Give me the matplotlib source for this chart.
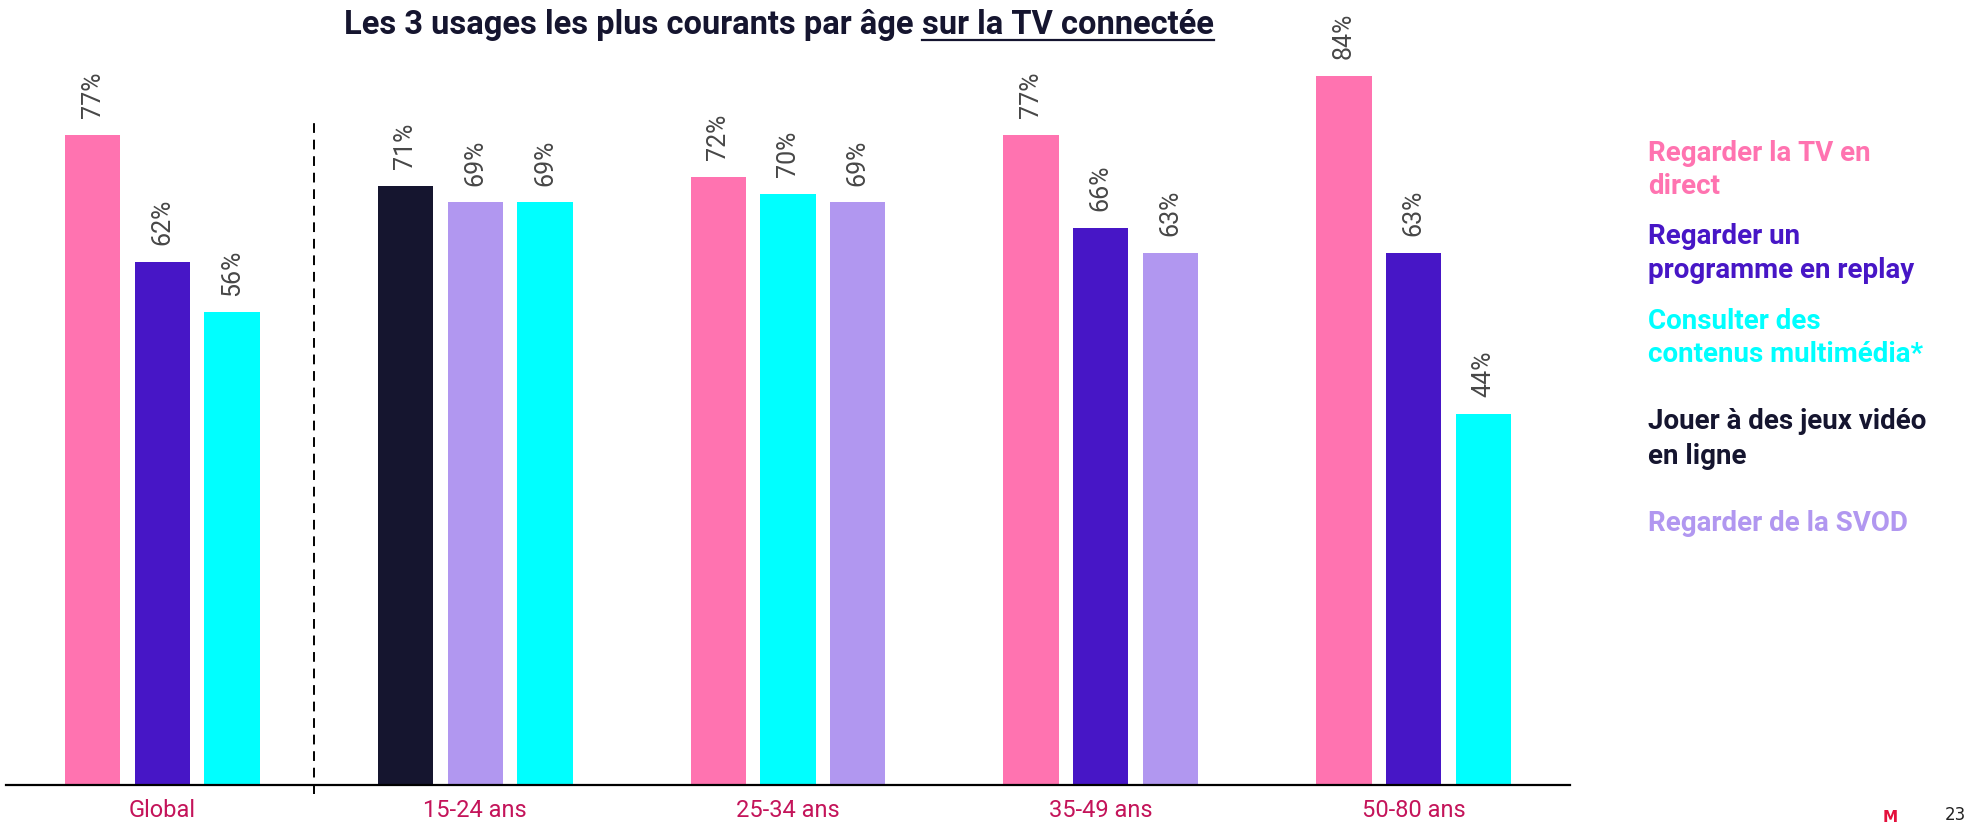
import matplotlib
matplotlib.use("Agg")
import matplotlib.pyplot as plt
import numpy as np

# ---- data ----
categories = ["Global", "15-24 ans", "25-34 ans", "35-49 ans", "50-80 ans"]
series_names = [
    "Regarder la TV en\ndirect",
    "Regarder un\nprogramme en replay",
    "Consulter des\ncontenus multimédia*",
    "Jouer à des jeux vidéo\nen ligne",
    "Regarder de la SVOD",
]
series_colors = ["#FF73B0", "#4716C6", "#00FFFF", "#15152F", "#B197F0"]
# series index of the 3 bars shown in each group
group_series = [[0, 1, 2], [3, 4, 2], [0, 2, 4], [0, 1, 4], [0, 1, 2]]
group_values = [[77, 62, 56], [71, 69, 69], [72, 70, 69], [77, 66, 63], [84, 63, 44]]

title_main = "Les 3 usages les plus courants par âge "
title_underlined = "sur la TV connectée"

W, H = 1970, 825
fig = plt.figure(figsize=(W / 100, H / 100), dpi=100)
fig.patch.set_facecolor("white")

ax_bottom = (H - 785) / H
px_per_pct = 8.443
ymax = 92
ax_h = ymax * px_per_pct / H
ax = fig.add_axes([6 / W, ax_bottom, 1564 / W, ax_h])

bar_w = 0.177
offset = 0.223
label_font = dict(family=["Roboto", "DejaVu Sans"], fontweight="normal")

for g, (sids, vals) in enumerate(zip(group_series, group_values)):
    for k, (sid, v) in enumerate(zip(sids, vals)):
        x = g + (k - 1) * offset
        ax.bar(x, v, width=bar_w, color=series_colors[sid], linewidth=0)
        ax.annotate(f"{v}%", xy=(x, v), xytext=(0, 12), textcoords="offset points",
                    rotation=90, ha="center", va="bottom", fontsize=18,
                    color="#474747", annotation_clip=False, **label_font)

ax.set_xlim(-0.5, 4.5)
ax.set_ylim(0, ymax)
ax.set_xticks(range(len(categories)))
ax.set_xticklabels(categories, fontsize=17, color="#C4145A", **label_font)
ax.tick_params(axis="x", length=0, pad=10)
ax.set_yticks([])
for s in ["top", "right", "left"]:
    ax.spines[s].set_visible(False)
ax.spines["bottom"].set_linewidth(1.6)
ax.spines["bottom"].set_color("black")

# separator dashed line
ax.plot([0.485, 0.485], [-1.1, 78.4], color="black", lw=1.4, ls=(0, (5, 3.5)), clip_on=False)

# ---- legend text ----
legend_baselines = [[161, 194.5], [244, 278], [329, 362], [429, 464], [531]]
for sid, name in enumerate(series_names):
    for line, yb in zip(name.split("\n"), legend_baselines[sid]):
        fig.text(1648 / W, 1 - yb / H, line, ha="left", va="baseline",
                 fontsize=20, fontweight="bold", color=series_colors[sid],
                 family=["Roboto", "DejaVu Sans"])

# ---- title with underlined part ----
title_kw = dict(fontsize=23.5, fontweight="bold", color="#15152F",
                family=["Roboto", "DejaVu Sans"], va="baseline")
ty = 1 - 34 / H
t1 = fig.text(0, ty, title_main, ha="left", **title_kw)
t2 = fig.text(0, ty, title_underlined, ha="left", **title_kw)
fig.canvas.draw()
r = fig.canvas.get_renderer()
w1 = t1.get_window_extent(r).width
w2 = t2.get_window_extent(r).width
x0 = 779 - (w1 + w2) / 2
t1.set_x(x0 / W)
t2.set_x((x0 + w1) / W)
fig.canvas.draw()
bb = t2.get_window_extent(r)
uy = (bb.y0 + 1) / H
fig.add_artist(plt.Line2D([bb.x0 / W, bb.x1 / W], [uy, uy], color="#15152F", lw=1.6))

# ---- page footer ----
fig.text(1883 / W, 1 - 810 / H, "M", ha="left", va="top", fontsize=11,
         fontweight="bold", color="#E4103C")
fig.text(1966 / W, 1 - 806 / H, "23", ha="right", va="top", fontsize=12, color="#222222")

fig.savefig("out.png", dpi=100, facecolor="white")
